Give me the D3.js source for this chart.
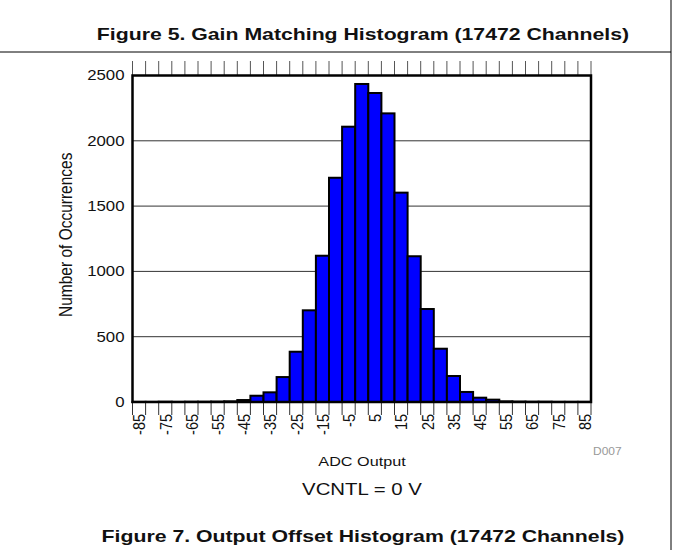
<!DOCTYPE html>
<html><head><meta charset="utf-8">
<script src="https://cdn.jsdelivr.net/npm/d3@7"></script>
<style>body{margin:0;background:#fff;} svg{display:block;font-family:"Liberation Sans",Arial,sans-serif;}</style>
</head><body><svg id="c" width="674" height="550"></svg>
<script>
// ---- data ----
const binCenters = [-85,-80,-75,-70,-65,-60,-55,-50,-45,-40,-35,-30,-25,-20,-15,-10,-5,0,5,10,15,20,25,30,35,40,45,50,55,60,65,70,75,80,85];
const counts =     [1,1,2,1,2,2,3,5,15,48,74,191,385,702,1120,1717,2108,2435,2366,2210,1603,1116,712,408,199,77,33,18,5,3,2,2,1,1,1];
const xTickLabels = [-85,-75,-65,-55,-45,-35,-25,-15,-5,5,15,25,35,45,55,65,75,85];
const yTicks = [0,500,1000,1500,2000,2500];
const binWidth = 5;

const svg = d3.select("#c");
const L=132.5, R=591, T=75.5, B=402;
const SX = 1.2; // horizontal stretch of text seen in the reference
const x = d3.scaleLinear().domain([-87.5,87.5]).range([L,R]);
const y = d3.scaleLinear().domain([0,2500]).range([B,T]);
const edges = d3.range(-87.5, 87.5+0.001, binWidth);

// frame lines
svg.append("line").attr("x1",0).attr("x2",671).attr("y1",52).attr("y2",52).attr("stroke","#000").attr("stroke-width",1);
svg.append("line").attr("x1",671).attr("x2",671).attr("y1",0).attr("y2",550).attr("stroke","#000").attr("stroke-width",1);

svg.append("text").attr("transform","translate(363,40) scale(1.25,1)").attr("text-anchor","middle")
  .attr("font-size",17).attr("font-weight","bold").attr("fill","#111")
  .text("Figure 5. Gain Matching Histogram (17472 Channels)");

// gridlines
svg.append("g").selectAll("line").data(yTicks.filter(v=>v>0&&v<2500)).join("line")
  .attr("x1",L).attr("x2",R).attr("y1",d=>y(d)).attr("y2",d=>y(d))
  .attr("stroke","#333").attr("stroke-width",1);

// bars
svg.append("g").selectAll("rect").data(binCenters.map((c,i)=>({c,v:counts[i]}))).join("rect")
  .attr("x",d=>x(d.c-binWidth/2)).attr("width",d=>x(d.c+binWidth/2)-x(d.c-binWidth/2))
  .attr("y",d=>y(d.v)).attr("height",d=>B-y(d.v))
  .attr("fill","#0000ff").attr("stroke","#000").attr("stroke-width",2);

// top ticks
svg.append("g").selectAll("line").data(edges).join("line")
  .attr("x1",d=>x(d)).attr("x2",d=>x(d)).attr("y1",61).attr("y2",T)
  .attr("stroke","#555").attr("stroke-width",1);
// bottom ticks
svg.append("g").selectAll("line").data(edges).join("line")
  .attr("x1",d=>x(d)).attr("x2",d=>x(d)).attr("y1",B).attr("y2",B+13)
  .attr("stroke","#333").attr("stroke-width",1);

// plot frame
svg.append("rect").attr("x",L).attr("y",T).attr("width",R-L).attr("height",B-T)
  .attr("fill","none").attr("stroke","#000").attr("stroke-width",2.5);

// y tick labels
svg.append("g").selectAll("text").data(yTicks).join("text")
  .attr("transform",d=>`translate(${L-8},${y(d)}) scale(${SX},1)`)
  .attr("dy","0.35em").attr("text-anchor","end")
  .attr("font-size",14).attr("fill","#111").text(d=>d);

// x tick labels
svg.append("g").selectAll("text").data(xTickLabels).join("text")
  .attr("transform",d=>`translate(${x(d)},${B+12}) scale(${SX},1) rotate(-90)`)
  .attr("dy","0.36em").attr("text-anchor","end")
  .attr("font-size",14.5).attr("fill","#111").text(d=>d);

// axis titles
svg.append("text").attr("transform",`translate(72,${(T+B)/2-4}) scale(${SX},1) rotate(-90)`)
  .attr("text-anchor","middle").attr("font-size",15.5).attr("fill","#111").text("Number of Occurrences");
svg.append("text").attr("transform",`translate(362,466) scale(${SX},1)`).attr("text-anchor","middle")
  .attr("font-size",13.5).attr("fill","#111").text("ADC Output");
svg.append("text").attr("transform",`translate(593,455) scale(${SX},1)`)
  .attr("font-size",10).attr("fill","#999").text("D007");

svg.append("text").attr("transform",`translate(362,495) scale(${SX},1)`).attr("text-anchor","middle")
  .attr("font-size",17).attr("fill","#111").text("VCNTL = 0 V");

svg.append("text").attr("transform","translate(363,542) scale(1.25,1)").attr("text-anchor","middle")
  .attr("font-size",17).attr("font-weight","bold").attr("fill","#111")
  .text("Figure 7. Output Offset Histogram (17472 Channels)");
</script></body></html>
